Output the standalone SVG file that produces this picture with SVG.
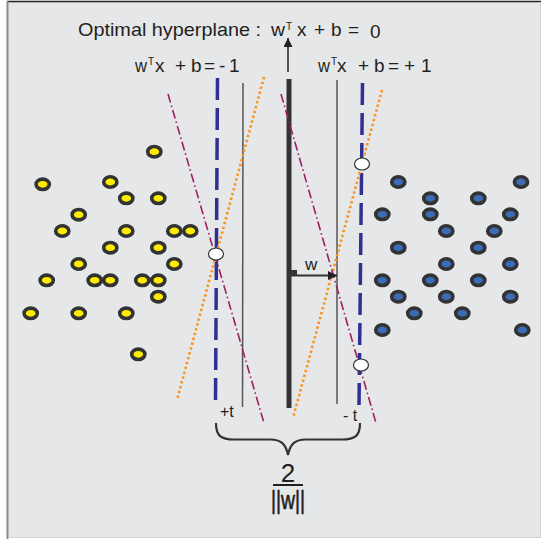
<svg xmlns="http://www.w3.org/2000/svg" width="541" height="539" viewBox="0 0 541 539">
<style>
text{font-family:"Liberation Sans",Arial,sans-serif;fill:#231f20}
.y{fill:#ffed00;stroke:#333;stroke-width:3.6}
.b{fill:#3d6bb5;stroke:#333;stroke-width:3.6}
.blue{stroke:#2e3192;stroke-width:3.5;stroke-dasharray:22 8;fill:none}
.gray{stroke:#555;stroke-width:1.5}
.or{stroke:#f7941d;stroke-width:2.6;stroke-dasharray:2.4 2.6;fill:none}
.pu{stroke:#9e1f63;stroke-width:1.6;stroke-dasharray:9 3 1.6 3;fill:none}
.wc{fill:#fff;stroke:#333;stroke-width:1.2}
.m{font-size:19px}
.s{font-size:10px}
</style>
<defs>
<marker id="ah" viewBox="0 0 10 10" refX="10" refY="5" markerWidth="9" markerHeight="9" markerUnits="userSpaceOnUse" orient="auto"><path d="M0,0 L10,5 L0,10 z" fill="#231f20"/></marker>
</defs>
<rect x="0" y="0" width="541" height="539" fill="#fff"/>
<rect x="8" y="2" width="532" height="535" fill="#e6e7e9"/>
<line x1="7" y1="1.5" x2="541" y2="1.5" stroke="#231f20" stroke-width="1.6"/>
<line x1="7.5" y1="1" x2="7.5" y2="539" stroke="#8a8a8a" stroke-width="2"/>
<line x1="8" y1="537.5" x2="541" y2="537.5" stroke="#d2d3d5" stroke-width="1"/>
<line x1="540.5" y1="2" x2="540.5" y2="538" stroke="#d2d3d5" stroke-width="1"/>

<g id="labels">
<text class="m" x="78" y="36" textLength="183" lengthAdjust="spacingAndGlyphs">Optimal hyperplane :</text>
<text class="m" x="271" y="36" textLength="14" lengthAdjust="spacingAndGlyphs">w</text>
<text class="s" x="286" y="30">T</text>
<text class="m" x="297" y="36">x</text>
<text class="m" x="314" y="36">+</text>
<text class="m" x="331" y="36">b</text>
<text class="m" x="348" y="36">=</text>
<text class="m" x="370" y="38">0</text>

<text class="m" x="135" y="72" textLength="12" lengthAdjust="spacingAndGlyphs">w</text>
<text class="s" x="148" y="65">T</text>
<text class="m" x="155" y="72">x</text>
<text class="m" x="175" y="72">+</text>
<text class="m" x="191" y="72">b</text>
<text class="m" x="204" y="72">=</text>
<text class="m" x="219" y="72">-</text>
<text class="m" x="229" y="72">1</text>

<text class="m" x="318" y="72" textLength="12" lengthAdjust="spacingAndGlyphs">w</text>
<text class="s" x="331" y="65">T</text>
<text class="m" x="337" y="72">x</text>
<text class="m" x="358" y="72">+</text>
<text class="m" x="374" y="72">b</text>
<text class="m" x="388" y="72">=</text>
<text class="m" x="404" y="72">+</text>
<text class="m" x="421" y="72">1</text>

<text x="305" y="270" font-size="17">w</text>
<text x="220" y="417" font-size="16">+t</text>
<text x="343" y="421" font-size="16">- t</text>
<text x="288" y="482" font-size="26" text-anchor="middle">2</text>
<line x1="273" y1="485" x2="303" y2="485" stroke="#231f20" stroke-width="2"/>
<text x="288" y="509" font-size="25" text-anchor="middle" textLength="34" lengthAdjust="spacingAndGlyphs" stroke="#231f20" stroke-width="0.6">||w||</text>
</g>

<g id="connectors">
<line x1="288" y1="72" x2="288" y2="38" stroke="#231f20" stroke-width="1.5" marker-end="url(#ah)"/>
<line x1="289" y1="79" x2="289" y2="408" stroke="#333" stroke-width="5"/>
<line class="gray" x1="243" y1="83" x2="242.5" y2="407"/>
<line class="gray" x1="337" y1="80" x2="337" y2="404"/>
<line class="blue" x1="217.5" y1="78" x2="215.5" y2="402"/>
<line class="blue" x1="362.5" y1="83" x2="359" y2="407"/>
<line class="or" x1="264" y1="77" x2="177" y2="400"/>
<line class="or" x1="382" y1="90" x2="293" y2="418"/>
<line class="pu" x1="168" y1="94" x2="264" y2="423"/>
<line class="pu" x1="281" y1="94" x2="376" y2="423"/>
<rect x="290" y="270" width="7" height="5" fill="#333"/>
<line x1="291" y1="275.5" x2="337" y2="275.5" stroke="#333" stroke-width="2" marker-end="url(#ah)"/>
<path d="M216,423 C216,436 221,439.5 234,439.5 L270,439.5 C281,439.5 286,444 288,455 C290,444 295,439.5 306,439.5 L342,439.5 C355,439.5 360,436 360,423" fill="none" stroke="#333" stroke-width="2.2"/>
</g>

<g id="support-points">
<ellipse class="wc" cx="216" cy="254" rx="7.5" ry="6"/>
<ellipse class="wc" cx="362" cy="164" rx="7.5" ry="6"/>
<ellipse class="wc" cx="361" cy="365" rx="7.5" ry="6"/>
</g>

<g id="class-yellow">
<ellipse class="y" cx="154.3" cy="151.7" rx="6.6" ry="5.2"/>
<ellipse class="y" cx="42.7" cy="184.3" rx="6.6" ry="5.2"/>
<ellipse class="y" cx="110.3" cy="182" rx="6.6" ry="5.2"/>
<ellipse class="y" cx="126.3" cy="198.3" rx="6.6" ry="5.2"/>
<ellipse class="y" cx="158.3" cy="198.3" rx="6.6" ry="5.2"/>
<ellipse class="y" cx="78.7" cy="214.7" rx="6.6" ry="5.2"/>
<ellipse class="y" cx="62.3" cy="231" rx="6.6" ry="5.2"/>
<ellipse class="y" cx="126.3" cy="231" rx="6.6" ry="5.2"/>
<ellipse class="y" cx="174.3" cy="231" rx="6.6" ry="5.2"/>
<ellipse class="y" cx="190.3" cy="231" rx="6.6" ry="5.2"/>
<ellipse class="y" cx="110.3" cy="247.7" rx="6.6" ry="5.2"/>
<ellipse class="y" cx="158.3" cy="247.7" rx="6.6" ry="5.2"/>
<ellipse class="y" cx="78.7" cy="264" rx="6.6" ry="5.2"/>
<ellipse class="y" cx="174.3" cy="264" rx="6.6" ry="5.2"/>
<ellipse class="y" cx="46.7" cy="280.3" rx="6.6" ry="5.2"/>
<ellipse class="y" cx="94.7" cy="280.3" rx="6.6" ry="5.2"/>
<ellipse class="y" cx="110.3" cy="280.3" rx="6.6" ry="5.2"/>
<ellipse class="y" cx="142.3" cy="280.3" rx="6.6" ry="5.2"/>
<ellipse class="y" cx="158.3" cy="280.3" rx="6.6" ry="5.2"/>
<ellipse class="y" cx="158.3" cy="296.7" rx="6.6" ry="5.2"/>
<ellipse class="y" cx="30.7" cy="313.3" rx="6.6" ry="5.2"/>
<ellipse class="y" cx="78.7" cy="313.3" rx="6.6" ry="5.2"/>
<ellipse class="y" cx="126.3" cy="313.3" rx="6.6" ry="5.2"/>
<ellipse class="y" cx="138.3" cy="354.3" rx="6.6" ry="5.2"/>
</g>

<g id="class-blue">
<ellipse class="b" cx="398.3" cy="182" rx="6.6" ry="5.2"/>
<ellipse class="b" cx="521" cy="182" rx="6.6" ry="5.2"/>
<ellipse class="b" cx="430.3" cy="198.3" rx="6.6" ry="5.2"/>
<ellipse class="b" cx="478.3" cy="198.3" rx="6.6" ry="5.2"/>
<ellipse class="b" cx="382.3" cy="214.3" rx="6.6" ry="5.2"/>
<ellipse class="b" cx="430.3" cy="214.3" rx="6.6" ry="5.2"/>
<ellipse class="b" cx="510.3" cy="214.3" rx="6.6" ry="5.2"/>
<ellipse class="b" cx="446.3" cy="231" rx="6.6" ry="5.2"/>
<ellipse class="b" cx="494.3" cy="231" rx="6.6" ry="5.2"/>
<ellipse class="b" cx="398.3" cy="247.7" rx="6.6" ry="5.2"/>
<ellipse class="b" cx="478.3" cy="247.7" rx="6.6" ry="5.2"/>
<ellipse class="b" cx="446.3" cy="264" rx="6.6" ry="5.2"/>
<ellipse class="b" cx="510.3" cy="264" rx="6.6" ry="5.2"/>
<ellipse class="b" cx="382.3" cy="280.3" rx="6.6" ry="5.2"/>
<ellipse class="b" cx="430.3" cy="280.3" rx="6.6" ry="5.2"/>
<ellipse class="b" cx="478.3" cy="280.3" rx="6.6" ry="5.2"/>
<ellipse class="b" cx="398.3" cy="296.7" rx="6.6" ry="5.2"/>
<ellipse class="b" cx="446.3" cy="296.7" rx="6.6" ry="5.2"/>
<ellipse class="b" cx="510.3" cy="296.7" rx="6.6" ry="5.2"/>
<ellipse class="b" cx="414.3" cy="313.3" rx="6.6" ry="5.2"/>
<ellipse class="b" cx="462.3" cy="313.3" rx="6.6" ry="5.2"/>
<ellipse class="b" cx="382.3" cy="330" rx="6.6" ry="5.2"/>
<ellipse class="b" cx="522.3" cy="330" rx="6.6" ry="5.2"/>
</g>
</svg>
